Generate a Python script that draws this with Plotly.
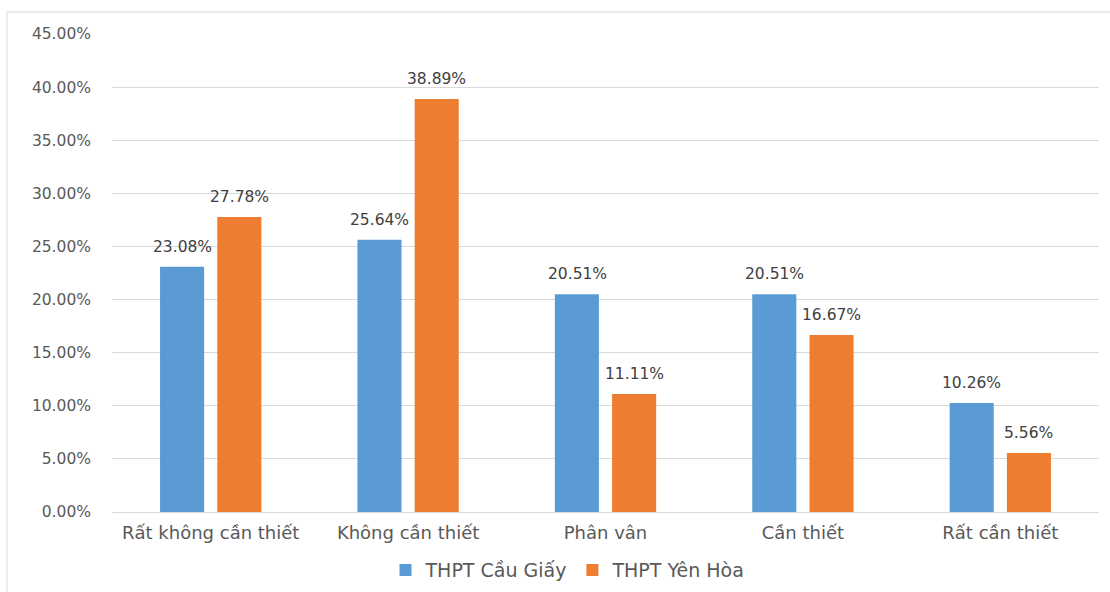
import plotly.graph_objects as go

categories = ["Rất không cần thiết", "Không cần thiết", "Phân vân", "Cần thiết", "Rất cần thiết"]
cau_giay = [23.08, 25.64, 20.51, 20.51, 10.26]
yen_hoa = [27.78, 38.89, 11.11, 16.67, 5.56]
series_names = ["THPT Cầu Giấy", "THPT Yên Hòa"]
tick_vals = [0, 5, 10, 15, 20, 25, 30, 35, 40, 45]
tick_text = [f"{v:.2f}%" for v in tick_vals]

FONT = "DejaVu Sans"
TXT = "#595959"
SLOT_PX = 57  # width of one bar slot inside a category group

series = [(series_names[0], cau_giay, "#5B9BD5", -SLOT_PX / 2),
          (series_names[1], yen_hoa, "#ED7D31", SLOT_PX / 2)]

fig = go.Figure()
annotations = []
for name, vals, color, dx in series:
    fig.add_trace(go.Bar(
        x=categories, y=vals, name=name,
        marker=dict(color=color, line=dict(width=0)),
    ))
    # value labels sitting a little above each bar
    for cat, v in zip(categories, vals):
        annotations.append(dict(
            x=cat, y=v, xref="x", yref="y", text=f"{v:.2f}%",
            showarrow=False, xanchor="center", yanchor="bottom",
            xshift=dx, yshift=9,
            font=dict(family=FONT, size=15.5, color="#404040"),
        ))

fig.update_layout(
    width=1110, height=592,
    margin=dict(l=112, r=11, t=34, b=80, autoexpand=False),
    paper_bgcolor="white", plot_bgcolor="white",
    barmode="group", bargap=0.42, bargroupgap=0.23,
    font=dict(family=FONT, color=TXT),
    showlegend=True,
    legend=dict(orientation="h", x=0.462, xanchor="center",
                yref="container", y=0.037, yanchor="middle",
                font=dict(family=FONT, size=19, color=TXT), itemwidth=30,
                traceorder="normal"),
    xaxis=dict(showgrid=False, showline=True, linecolor="#d9d9d9", linewidth=1,
               ticks="", automargin=False, ticklabelstandoff=4,
               tickfont=dict(family=FONT, size=18, color=TXT)),
    yaxis=dict(range=[0, 45], tickvals=tick_vals, ticktext=tick_text,
               showgrid=True, gridcolor="#d9d9d9", gridwidth=1,
               zeroline=False, showline=False, ticks="", automargin=False,
               ticklabelstandoff=20,
               tickfont=dict(family=FONT, size=15.5, color=TXT)),
    annotations=annotations,
    shapes=[dict(type="rect", xref="paper", yref="paper",
                 x0=-0.1064, x1=1.02, y0=-0.2, y1=1.046,
                 line=dict(color="#d9d9d9", width=1), fillcolor="rgba(0,0,0,0)",
                 layer="below")],
)

fig.write_html("out.html")
